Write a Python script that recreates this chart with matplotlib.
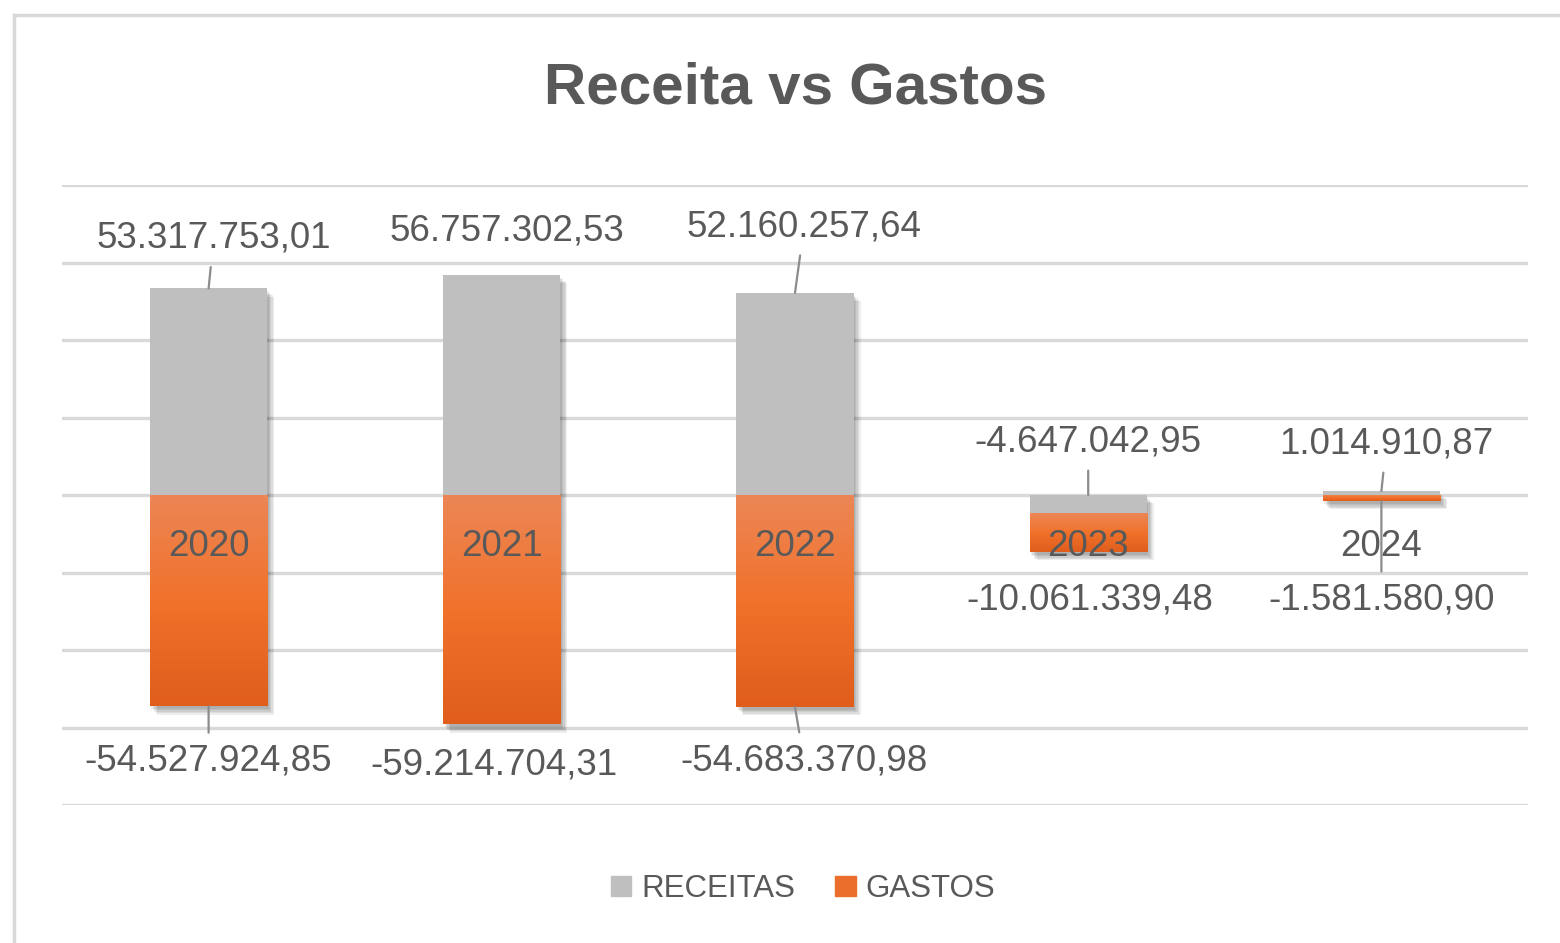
import numpy as np
import matplotlib
matplotlib.use('Agg')
import matplotlib.pyplot as plt
from matplotlib import patheffects
from matplotlib.colors import LinearSegmentedColormap
from matplotlib.lines import Line2D
from matplotlib.patches import Patch

plt.rcParams['font.family'] = ['Liberation Sans', 'DejaVu Sans']

# dados
anos = ['2020', '2021', '2022', '2023', '2024']
receitas = [53317753.01, 56757302.53, 52160257.64, -4647042.95, 1014910.87]
gastos = [-54527924.85, -59214704.31, -54683370.98, -10061339.48, -1581580.90]

# posicao dos rotulos (deslocamento em px) e se tem linha de chamada
off_rec = [(5, 50), (5, 44), (9, 66), (0, 53), (5, 47)]
off_gas = [(0, -55), (-8, -41), (9, -54), (2, -48), (0, -99)]
linha_rec = [True, False, True, True, True]
linha_gas = [True, False, True, False, True]

cor_txt = '#595959'
cor_grid = '#d9d9d9'
cor_rec = '#bfbfbf'
laranja = LinearSegmentedColormap.from_list('lar', ['#ec8656', '#f1722b', '#e05d1b'])


def fmt_br(v):
    s = '{:,.2f}'.format(v)
    return s.replace(',', 'X').replace('.', ',').replace('X', '.')


fig = plt.figure(figsize=(15.6, 9.43), dpi=100)
ax = fig.add_axes([62/1560, 1-805/943, (1528-62)/1560, (805-185)/943])

x = np.arange(len(anos))
w = 0.40
# sombra suave: varias camadas fracas
sombra = [patheffects.SimplePatchShadow(offset=(o, -o - 1), shadow_rgbFace='k', alpha=0.07)
          for o in (1, 2, 3, 4, 5)] + [patheffects.Normal()]

# empilhado estilo excel: negativos descem a partir do fim negativo
base_gas = [min(r, 0) for r in receitas]
b1 = ax.bar(x, receitas, w, color=cor_rec, zorder=3)
b2 = ax.bar(x, gastos, w, bottom=base_gas, color='#f1722b', zorder=3)
for b in list(b1) + list(b2):
    b.set_path_effects(sombra)

grad = np.linspace(0, 1, 256).reshape(-1, 1)
for b in b2:
    x0, y0, bw, bh = b.get_x(), b.get_y(), b.get_width(), b.get_height()
    im = ax.imshow(grad, cmap=laranja, aspect='auto', interpolation='bilinear',
                   extent=(x0, x0 + bw, min(y0, y0 + bh), max(y0, y0 + bh)), zorder=3.5)
    im.set_clip_path(b)

ax.set_xlim(-0.5, len(anos) - 0.5)
ax.set_ylim(-80e6, 80e6)
ax.set_yticks(np.arange(-80e6, 80e6 + 1, 20e6))
ax.set_xticks([])
ax.tick_params(left=False, labelleft=False)
ax.grid(axis='y', color=cor_grid, lw=2.4)
ax.set_axisbelow(True)
for s in ax.spines.values():
    s.set_visible(False)

seta = dict(arrowstyle='-', color='#8c8c8c', lw=1.6, shrinkA=6, shrinkB=0)

for i in range(len(anos)):
    topo = max(receitas[i], 0)
    ax.annotate(fmt_br(receitas[i]), xy=(x[i], topo), xytext=off_rec[i],
                textcoords='offset pixels', ha='center', va='center',
                fontsize=26.5, color=cor_txt, zorder=6,
                arrowprops=seta if linha_rec[i] else None)
    fundo = base_gas[i] + gastos[i]
    ax.annotate(fmt_br(gastos[i]), xy=(x[i], fundo), xytext=off_gas[i],
                textcoords='offset pixels', ha='center', va='center',
                fontsize=26.5, color=cor_txt, zorder=6,
                arrowprops=seta if linha_gas[i] else None)
    # rotulo da categoria no eixo zero
    ax.annotate(anos[i], xy=(x[i], 0), xytext=(0, -51), textcoords='offset pixels',
                ha='center', va='center', fontsize=26.5, color=cor_txt, zorder=5)

fig.text(795/1560, 1-88/943, 'Receita vs Gastos', ha='center', va='center',
         fontsize=42, fontweight='bold', color=cor_txt)

leg = fig.legend(handles=[Patch(color=cor_rec, label='RECEITAS'),
                          Patch(color='#ec6e2c', label='GASTOS')],
                 loc='center', bbox_to_anchor=(803/1560, 1-889/943), ncol=2,
                 frameon=False, fontsize=22.5, handlelength=0.65, handleheight=0.65,
                 handletextpad=0.32, columnspacing=1.3)
for t in leg.get_texts():
    t.set_color(cor_txt)

# moldura do grafico
fig.add_artist(Line2D([13.5/1560, 13.5/1560], [0, 1-14.5/943], transform=fig.transFigure,
                      color=cor_grid, lw=2.5))
fig.add_artist(Line2D([13.5/1560, 1], [1-14.5/943, 1-14.5/943], transform=fig.transFigure,
                      color=cor_grid, lw=2.5))

fig.savefig('out.png', dpi=100)
